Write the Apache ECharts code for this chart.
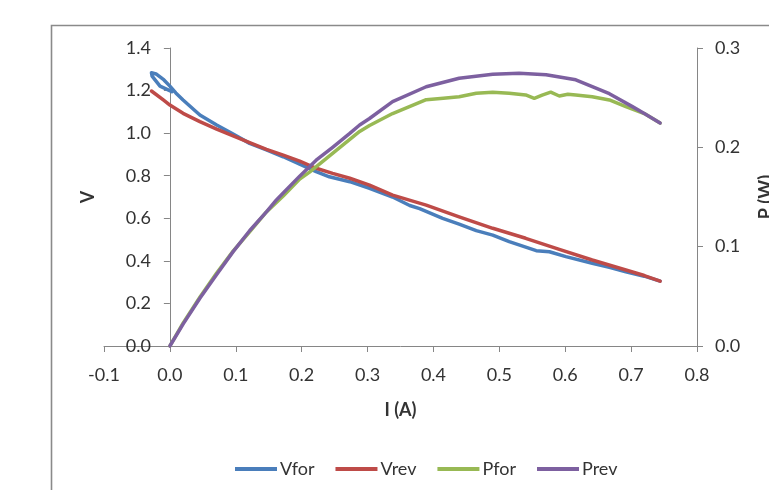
<!DOCTYPE html>
<html>
<head>
<meta charset="utf-8">
<script src="https://cdn.jsdelivr.net/npm/echarts@6/dist/echarts.min.js"></script>
<style>
  html, body { margin: 0; padding: 0; background: #fff; }
  #chart { width: 769px; height: 490px; }
</style>
</head>
<body>
<div id="chart"></div>
<script>
// Forward sweep voltage (V) against current (A)
const iVfor = [0.003, -0.015, -0.027, -0.028, -0.021, -0.009, 0.0, 0.009, 0.020,
  0.0455, 0.071, 0.096, 0.121, 0.1465, 0.172, 0.197, 0.222, 0.242, 0.273, 0.303,
  0.338, 0.364, 0.379, 0.414, 0.439, 0.465, 0.490, 0.515,
  0.556, 0.576, 0.601, 0.641, 0.667, 0.692, 0.720, 0.744];
const vFor = [1.195, 1.221, 1.268, 1.284, 1.278, 1.250, 1.221, 1.189, 1.156,
  1.085, 1.038, 0.996, 0.952, 0.921, 0.889, 0.854, 0.819, 0.795, 0.772, 0.741,
  0.700, 0.660, 0.645, 0.600, 0.573, 0.542, 0.521, 0.490,
  0.448, 0.443, 0.420, 0.389, 0.370, 0.349, 0.328, 0.305];

// Reverse sweep voltage (V)
const iVrev = [-0.028, -0.010, 0.0, 0.020, 0.0455, 0.071, 0.096, 0.121, 0.1465, 0.172,
  0.197, 0.222, 0.247, 0.273, 0.303, 0.338, 0.389, 0.439, 0.490, 0.540, 0.591,
  0.641, 0.692, 0.720, 0.744];
const vRev = [1.198, 1.156, 1.132, 1.093, 1.054, 1.019, 0.987, 0.955, 0.924, 0.897,
  0.869, 0.835, 0.811, 0.788, 0.756, 0.709, 0.662, 0.607, 0.553, 0.506, 0.454,
  0.404, 0.357, 0.331, 0.305];

// Forward sweep power (W)
const iPfor = [0, 0.020, 0.0455, 0.071, 0.096, 0.121, 0.1465, 0.172, 0.197, 0.212,
  0.2525, 0.288, 0.303, 0.338, 0.389, 0.415, 0.439, 0.465, 0.490, 0.515,
  0.540, 0.553, 0.565, 0.578, 0.591, 0.604, 0.616, 0.641, 0.667, 0.692, 0.720, 0.744];
const pFor = [0, 0.023, 0.049, 0.0735, 0.0955, 0.115, 0.135, 0.151, 0.168, 0.175,
  0.197, 0.216, 0.222, 0.234, 0.248, 0.2495, 0.251, 0.2545, 0.2555, 0.2545,
  0.2527, 0.2494, 0.2525, 0.2555, 0.2517, 0.2535, 0.2527, 0.251, 0.2477, 0.241, 0.234, 0.2245];

// Reverse sweep power (W)
const iPrev = [0, 0.020, 0.0455, 0.071, 0.096, 0.121, 0.1465, 0.1617, 0.172, 0.197,
  0.222, 0.247, 0.273, 0.288, 0.303, 0.338, 0.389, 0.439, 0.490, 0.530, 0.571,
  0.616, 0.667, 0.702, 0.720, 0.744];
const pRev = [0, 0.022, 0.048, 0.072, 0.095, 0.116, 0.135, 0.147, 0.154, 0.171,
  0.187, 0.200, 0.214, 0.2225, 0.229, 0.246, 0.261, 0.2695, 0.2735, 0.2745, 0.273,
  0.268, 0.254, 0.241, 0.234, 0.2245];

const seriesNames = ['Vfor', 'Vrev', 'Pfor', 'Prev'];
const seriesColors = ['#4A7EBB', '#BE4B48', '#98B954', '#7D60A0'];

const pairs = (xs, ys) => xs.map((x, k) => [x, ys[k]]);

const FONT = 'Lato, "Open Sans", sans-serif';
const AXIS_GRAY = '#868686';
const TEXT = '#333333';

const chart = echarts.init(document.getElementById('chart'), null, { renderer: 'canvas' });

const lineSeries = (idx, data, yAxisIndex) => ({
  name: seriesNames[idx],
  type: 'line',
  yAxisIndex: yAxisIndex,
  data: data,
  showSymbol: false,
  symbol: 'none',
  smooth: false,
  clip: false,
  lineStyle: { color: seriesColors[idx], width: 3.5, cap: 'round', join: 'round' },
  itemStyle: { color: seriesColors[idx] },
  emphasis: { disabled: true },
  z: 2 + idx
});

chart.setOption({
  animation: false,
  backgroundColor: '#fff',
  textStyle: { fontFamily: FONT },
  graphic: [{
    type: 'rect',
    left: 49, top: 23,
    shape: { width: 760, height: 520 },
    style: { fill: 'none', stroke: '#8a8a8a', lineWidth: 1.6 },
    silent: true, z: -1
  }],
  grid: { left: 104, right: 72, top: 48, bottom: 144, containLabel: false, outerBoundsMode: 'none' },
  legend: {
    data: seriesNames,
    left: 230, top: 455,
    icon: 'rect',
    itemWidth: 42, itemHeight: 4,
    itemGap: 21,
    textStyle: { fontFamily: FONT, fontSize: 18, color: TEXT, padding: [0, 0, 0, -2] }
  },
  xAxis: {
    type: 'value',
    min: -0.1, max: 0.8, interval: 0.1,
    name: 'I (A)',
    nameLocation: 'middle',
    nameGap: 55,
    nameTextStyle: { fontFamily: FONT, fontSize: 18, fontWeight: 'bold', color: TEXT },
    axisLine: { show: true, onZero: false, lineStyle: { color: AXIS_GRAY, width: 1 } },
    axisTick: { show: true, inside: false, length: 6, lineStyle: { color: AXIS_GRAY } },
    axisLabel: { margin: 20, fontSize: 18, color: TEXT, formatter: v => v.toFixed(1) },
    splitLine: { show: false }
  },
  yAxis: [{
    type: 'value',
    position: 'left',
    min: 0, max: 1.4, interval: 0.2,
    name: 'V',
    nameLocation: 'middle',
    nameGap: 7,
    nameTextStyle: { fontFamily: FONT, fontSize: 18, fontWeight: 'bold', color: TEXT },
    axisLine: { show: true, onZero: true, lineStyle: { color: AXIS_GRAY, width: 1 } },
    axisTick: { show: true, inside: false, length: 6, lineStyle: { color: AXIS_GRAY } },
    axisLabel: { margin: -47, fontSize: 18, color: TEXT, formatter: v => v.toFixed(1) },
    splitLine: { show: false }
  }, {
    type: 'value',
    position: 'right',
    min: 0, max: 0.3, interval: 0.1,
    name: 'P (W)',
    nameLocation: 'middle',
    nameRotate: 90,
    nameGap: 60,
    nameTextStyle: { fontFamily: FONT, fontSize: 18, fontWeight: 'bold', color: TEXT },
    axisLine: { show: true, onZero: false, lineStyle: { color: AXIS_GRAY, width: 1 } },
    axisTick: { show: true, inside: false, length: 6, lineStyle: { color: AXIS_GRAY } },
    axisLabel: { margin: 18, fontSize: 18, color: TEXT, formatter: v => v.toFixed(1) },
    splitLine: { show: false }
  }],
  series: [
    lineSeries(0, pairs(iVfor, vFor), 0),
    lineSeries(1, pairs(iVrev, vRev), 0),
    lineSeries(2, pairs(iPfor, pFor), 1),
    lineSeries(3, pairs(iPrev, pRev), 1)
  ]
});
</script>
</body>
</html>
